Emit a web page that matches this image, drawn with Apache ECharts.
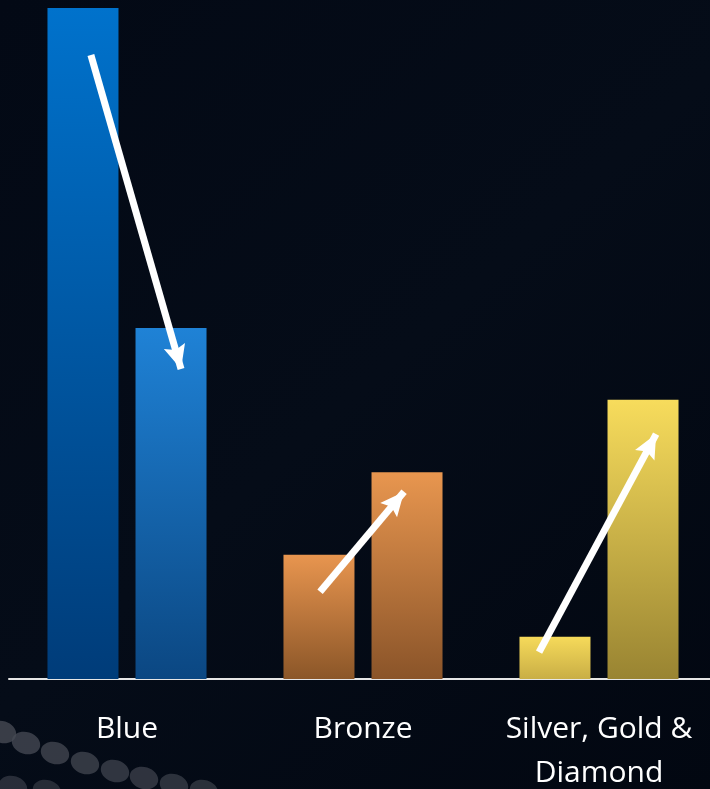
<!DOCTYPE html>
<html>
<head>
<meta charset="utf-8">
<script src="https://cdn.jsdelivr.net/npm/echarts@6/dist/echarts.min.js"></script>
<style>
html,body{margin:0;padding:0;background:#020812;}
#chart{width:710px;height:789px;}
</style>
</head>
<body>
<div id="chart"></div>
<script>
// Categories and values (index, first bar of Blue = 100)
var categories = ['Blue', 'Bronze', 'Silver, Gold &\nDiamond'];
var before = [100, 18.5, 6.3];
var after = [52.3, 30.8, 41.6];
// Arrow annotations in data units: [x position along categories (0..3), value]
var arrowFrom = [[0.347, 93.0], [1.318, 13.0], [2.246, 4.0]];
var arrowTo = [[0.729, 46.2], [1.674, 27.9], [2.742, 36.5]];

function grad(top, bottom) {
  return new echarts.graphic.LinearGradient(0, 0, 0, 1, [
    { offset: 0, color: top }, { offset: 1, color: bottom }
  ]);
}
var beforeColors = [grad('#0072cc', '#003c79'), grad('#e8954f', '#8b5628'), grad('#f6da5a', '#c9ae45')];
var afterColors = [grad('#1f82d6', '#0b4782'), grad('#e8964f', '#8a5429'), grad('#f7dc5c', '#998432')];

var chart = echarts.init(document.getElementById('chart'), null, { renderer: 'canvas' });

var dots = [];
var dotCenters = [[2,732],[26,743],[55,753],[85,763],[115,771],[144,778],[174,785],[204,791],[13,787],[47,791]];
dotCenters.forEach(function (c, i) {
  dots.push({
    type: 'ellipse', z: -1,
    shape: { cx: c[0], cy: c[1], rx: 14.5, ry: 11 },
    rotation: -0.3, originX: c[0], originY: c[1],
    style: { fill: 'rgba(70,74,84,' + (0.8 - i * 0.03) + ')' }
  });
});

var arrowLines = arrowFrom.map(function (f, i) {
  return [{ coord: f }, { coord: arrowTo[i] }];
});

var gridCfg = { left: 9, right: -7, top: 8, bottom: 110, outerBoundsMode: 'none', containLabel: false };

chart.setOption({
  backgroundColor: new echarts.graphic.LinearGradient(0, 0, 1, 1, [
    { offset: 0, color: '#030915' }, { offset: 0.5, color: '#050c18' }, { offset: 1, color: '#020711' }
  ]),
  animation: false,
  graphic: dots,
  grid: [
    Object.assign({}, gridCfg),
    Object.assign({}, gridCfg)
  ],
  xAxis: [
    {
      type: 'category', data: categories, gridIndex: 0,
      axisLine: { show: true, lineStyle: { color: '#e6e6e6', width: 2 } },
      axisTick: { show: false },
      axisLabel: {
        color: '#ffffff', fontSize: 30, fontFamily: 'Open Sans',
        lineHeight: 44, margin: 28, interval: 0
      }
    },
    { type: 'value', gridIndex: 1, min: 0, max: 3, show: false }
  ],
  yAxis: [
    { type: 'value', gridIndex: 0, min: 0, max: 100, show: false, splitLine: { show: false } },
    { type: 'value', gridIndex: 1, min: 0, max: 100, show: false, splitLine: { show: false } }
  ],
  series: [
    {
      type: 'bar', xAxisIndex: 0, yAxisIndex: 0,
      barWidth: 71, barGap: '24%',
      data: before.map(function (v, i) { return { value: v, itemStyle: { color: beforeColors[i] } }; })
    },
    {
      type: 'bar', xAxisIndex: 0, yAxisIndex: 0,
      barWidth: 71, barGap: '24%',
      data: after.map(function (v, i) { return { value: v, itemStyle: { color: afterColors[i] } }; })
    },
    {
      type: 'line', xAxisIndex: 1, yAxisIndex: 1, data: [], z: 10,
      markLine: {
        silent: true, animation: false,
        symbol: ['none', 'path://M0,-12 L10,10 L0,6 L-10,10 Z'], symbolSize: [22, 24],
        symbolOffset: [[0, 0], [0, 12]],
        label: { show: false },
        lineStyle: { color: '#ffffff', width: 7, type: 'solid', opacity: 1 },
        emphasis: { disabled: true },
        data: arrowLines
      }
    }
  ]
});
</script>
</body>
</html>
